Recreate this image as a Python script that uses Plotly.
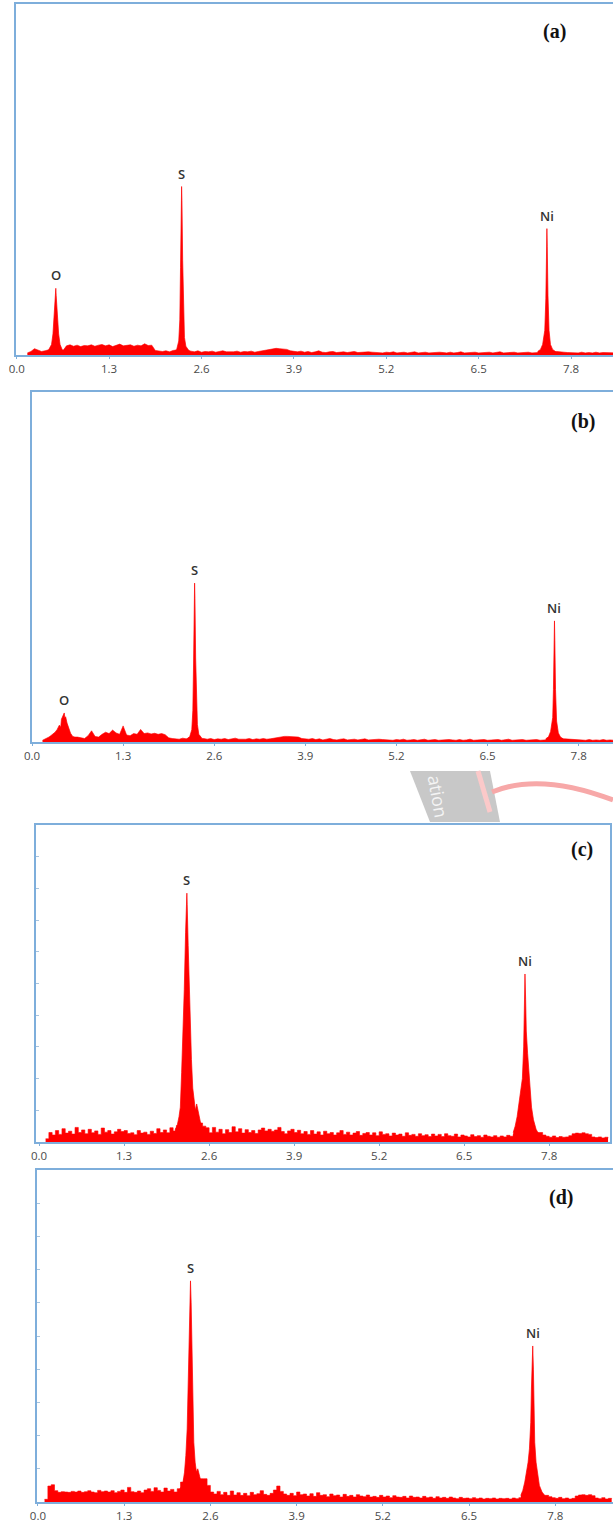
import numpy as np
import plotly.graph_objects as go

W, H = 613, 1526

tick_vals = [0.0, 1.3, 2.6, 3.9, 5.2, 6.5, 7.8]
tick_text = ["0.0", "1.3", "2.6", "3.9", "5.2", "6.5", "7.8"]
panel_names = ["(a)", "(b)", "(c)", "(d)"]

# ---------------- panel (a) : intensity in % of panel height ----------------
a_bg_start, a_bg_step = 0.15, 0.05
a_bg = [0.6, 1.0, 1.8, 1.4, 1.0, 1.2, 1.5,
        1.5, 1.5, 1.5,
        1.2, 2.6, 2.9, 2.5, 2.8, 2.4, 2.7, 2.6,
        2.9, 2.5, 2.8, 3.0, 2.6, 2.9, 2.4, 2.8, 3.1, 2.6, 2.7, 2.9, 2.5, 2.8, 2.6, 3.2, 2.7, 2.8, 1.3, 1.1,
        1.0, 1.2, 0.9, 1.3, 1.5, 1.5, 1.5, 1.5, 1.1, 0.9, 1.2, 0.8, 1.0, 0.9, 1.1, 0.8, 1.0, 1.2, 0.9, 0.8,
        0.9, 1.1, 0.8, 1.0, 0.9, 1.1, 0.8, 1.0, 1.2, 1.4, 1.7, 1.8, 1.9, 1.8, 1.7, 1.6, 1.2, 1.0, 0.9, 1.1,
        0.8, 1.0, 0.7, 0.9, 1.2, 0.8, 0.7, 0.9, 1.0, 0.7, 0.8, 0.9, 0.7, 0.8, 1.0, 0.7, 0.8, 0.7, 0.9, 0.8,
        0.7, 0.8, 0.6, 0.8, 0.7, 0.9, 0.6, 0.7, 0.8, 0.6, 0.7, 0.9, 0.6, 0.7, 0.8, 0.6, 0.7, 0.6, 0.8, 0.7,
        0.6, 0.8, 0.6, 0.7, 0.9, 0.6, 0.7, 0.6, 0.8, 0.6, 0.7, 0.6, 0.8, 0.6, 0.7, 0.9, 0.6, 0.7, 0.6, 0.8,
        0.6, 0.7, 0.6, 0.8, 0.6, 0.7, 0.8, 0.9, 1.0, 1.0, 1.0, 1.0, 1.0, 0.8, 0.7, 0.6, 0.7, 0.6, 0.8, 0.6,
        0.7, 0.6, 0.8, 0.6, 0.7, 0.6, 0.7, 0.6]
a_O_x = [0.45, 0.49, 0.51, 0.53, 0.545, 0.55, 0.555, 0.57, 0.59, 0.61, 0.64, 0.68]
a_O_y = [1.5, 3.0, 6.0, 12.0, 17.0, 19.0, 17.0, 11.0, 6.0, 3.0, 1.5, 1.2]
a_S_x = [2.22, 2.25, 2.28, 2.295, 2.305, 2.315, 2.32, 2.325, 2.335, 2.345, 2.36, 2.38, 2.42]
a_S_y = [1.2, 1.5, 4.0, 10.0, 25.0, 42.0, 48.0, 44.0, 27.0, 12.0, 5.0, 2.5, 1.3]
a_Ni_x = [7.33, 7.37, 7.40, 7.43, 7.445, 7.455, 7.46, 7.465, 7.475, 7.49, 7.51, 7.54, 7.58]
a_Ni_y = [1.0, 1.6, 3.0, 7.0, 16.0, 28.0, 36.0, 31.0, 17.0, 7.0, 3.0, 1.6, 1.0]

# ---------------- panel (b) ----------------
b_bg_start, b_bg_step = 0.15, 0.05
b_bg = [0.5, 0.9, 1.5,
        1.5, 1.5, 1.5, 1.5, 1.5, 1.5, 1.5,
        1.4, 1.2, 1.0, 1.8, 3.2, 1.6, 1.4, 2.2,
        2.8, 2.4, 3.4, 2.6, 2.2, 4.6, 2.0, 1.8, 2.4, 2.2, 3.6, 2.4, 2.6, 2.3, 2.5, 2.2, 2.4, 2.1, 1.2, 1.0,
        1.0, 0.8, 1.1, 0.9, 1.2, 1.2, 1.2, 1.2, 1.0, 0.8, 1.0, 0.7, 0.9, 0.8, 1.0, 0.7, 0.9, 1.1, 0.8, 0.7,
        0.8, 1.0, 0.7, 0.9, 0.8, 1.0, 0.8, 0.9, 1.1, 1.3, 1.5, 1.6, 1.6, 1.5, 1.5, 1.4, 1.0, 0.9, 0.8, 1.0,
        0.7, 0.9, 0.6, 0.8, 1.0, 0.7, 0.6, 0.8, 0.9, 0.6, 0.7, 0.8, 0.6, 0.7, 0.9, 0.6, 0.7, 0.6, 0.8, 0.7,
        0.6, 0.7, 0.5, 0.7, 0.6, 0.8, 0.5, 0.6, 0.7, 0.5, 0.6, 0.8, 0.5, 0.6, 0.7, 0.5, 0.6, 0.5, 0.7, 0.6,
        0.5, 0.7, 0.5, 0.6, 0.8, 0.5, 0.6, 0.5, 0.7, 0.5, 0.6, 0.5, 0.7, 0.5, 0.6, 0.8, 0.5, 0.6, 0.5, 0.7,
        0.5, 0.6, 0.5, 0.7, 0.5, 0.6, 0.7, 0.8, 0.9, 0.9, 0.9, 0.9, 0.8, 0.7, 0.6, 0.5, 0.6, 0.5, 0.7, 0.5,
        0.6, 0.5, 0.7, 0.5, 0.6, 0.5]
b_O_x = [0.25, 0.30, 0.33, 0.36, 0.39, 0.41, 0.42, 0.44, 0.46, 0.47, 0.48, 0.50, 0.52, 0.55, 0.58, 0.62]
b_O_y = [1.5, 2.2, 2.8, 3.6, 4.8, 4.2, 6.5, 7.4, 8.3, 6.8, 7.2, 5.4, 4.0, 2.5, 1.6, 1.2]
b_S_x = [2.22, 2.25, 2.28, 2.295, 2.305, 2.315, 2.32, 2.325, 2.335, 2.345, 2.36, 2.38, 2.42]
b_S_y = [1.1, 1.5, 3.5, 9.0, 22.0, 40.0, 45.4, 41.0, 24.0, 11.0, 5.0, 2.2, 1.2]
b_Ni_x = [7.33, 7.37, 7.40, 7.43, 7.44, 7.45, 7.455, 7.46, 7.47, 7.485, 7.51, 7.54, 7.58]
b_Ni_y = [0.9, 1.5, 3.0, 7.0, 15.0, 27.0, 34.6, 29.0, 15.0, 6.0, 2.6, 1.4, 0.9]

# ---------------- panel (c) ----------------
c_bg_start, c_bg_step = 0.10, 0.05
c_bg = [1.0, 3.0, 2.2, 3.6, 2.4, 4.2, 2.8, 3.4, 2.5, 4.6, 3.0, 3.8, 2.6, 4.0, 2.9, 3.5, 2.4, 4.4, 3.1,
        3.6, 2.5, 3.2, 4.0, 3.3, 3.6, 2.7, 2.9, 2.3, 3.6, 2.8, 3.1, 2.4, 3.4, 2.7, 4.2, 3.0, 3.8, 2.9, 4.5,
        3.5, 5.2, 4.0, 6.0, 6.0, 6.0, 6.0, 6.0, 6.0, 5.0, 4.5, 2.9, 4.6, 3.1, 4.0, 2.6, 3.9, 3.0, 4.8, 3.2,
        4.2, 2.8, 3.9, 3.0, 3.6, 2.7, 3.8, 4.4, 3.5, 4.0, 3.4, 3.8, 4.6, 3.3, 2.6, 3.5, 4.0, 3.0, 3.7, 2.6,
        3.3, 2.4, 3.6, 2.5, 3.2, 2.2, 3.4, 2.6, 3.0, 2.2, 2.9, 3.6, 2.4, 3.1, 2.2, 2.8, 3.3, 2.1, 2.7, 3.0,
        2.2, 2.9, 2.0, 3.2, 2.4, 2.6, 1.9, 2.8, 2.2, 2.5, 1.8, 2.9, 2.1, 2.4, 1.8, 2.6, 2.0, 2.3, 1.7, 2.5,
        1.9, 2.4, 1.7, 2.6, 2.0, 1.8, 2.5, 1.6, 2.2, 1.9, 1.6, 2.3, 1.7, 2.0, 1.5, 2.2, 1.8, 1.6, 2.0, 1.5,
        1.9, 1.6, 2.1, 1.8, 2.4, 3.0, 3.0, 3.0, 3.0, 3.0, 3.0, 3.0, 3.0, 2.2, 1.8, 1.5, 1.9, 1.4, 1.7, 1.5,
        1.6, 2.0, 2.6, 2.8, 2.7, 2.9, 2.6, 2.4, 1.6, 1.4, 1.6, 1.3, 1.5, 1.2]
c_S_x = [2.08, 2.11, 2.14, 2.16, 2.18, 2.20, 2.22, 2.24, 2.255, 2.26, 2.265, 2.28, 2.30, 2.32,
         2.33, 2.35, 2.37, 2.39, 2.41, 2.43, 2.45, 2.48, 2.52]
c_S_y = [4.0, 5.0, 8.0, 11.0, 22.0, 33.0, 48.0, 66.0, 76.0, 78.5, 75.0, 62.0, 45.0, 32.0,
         26.0, 17.0, 13.0, 10.0, 12.0, 10.0, 8.0, 5.0, 3.5]
c_Ni_x = [7.25, 7.28, 7.31, 7.34, 7.37, 7.39, 7.41, 7.42, 7.43, 7.44, 7.45, 7.47, 7.49, 7.51,
          7.53, 7.56, 7.60, 7.64]
c_Ni_y = [3.0, 5.0, 8.0, 12.0, 16.0, 20.0, 30.0, 42.0, 53.0, 45.0, 35.0, 28.0, 22.0, 16.0,
          11.0, 7.0, 4.0, 2.5]

# ---------------- panel (d) ----------------
d_bg_start, d_bg_step = 0.10, 0.05
d_bg = [0.8, 4.8, 5.2, 3.4, 2.9, 3.1, 3.0, 2.9, 3.2, 3.0, 3.3, 2.9, 3.1, 3.4, 3.0, 2.8, 3.5, 3.1, 3.3,
        3.0, 3.4, 2.8, 3.2, 3.6, 2.9, 4.4, 3.1, 2.9, 3.3, 2.8, 3.6, 4.0, 3.2, 4.3, 3.5, 3.0, 4.2, 3.3, 3.8,
        3.0, 4.0, 6.0, 7.0, 7.0, 7.0, 7.0, 7.0, 7.0, 7.0, 5.0, 3.0, 2.4, 3.2, 2.2, 2.9, 2.0, 3.3, 2.1, 2.8,
        2.0, 2.6, 1.9, 2.9, 2.2, 2.5, 3.4, 2.3, 2.0, 2.6, 3.6, 4.8, 3.2, 2.4, 2.0, 2.6, 1.9, 3.0, 2.2, 2.4,
        1.8, 2.5, 1.7, 2.8, 2.0, 2.2, 1.6, 2.4, 1.9, 2.1, 1.5, 2.3, 1.7, 2.0, 1.5, 2.2, 1.8, 1.6, 2.1, 1.5,
        1.7, 1.4, 2.0, 1.5, 1.8, 1.3, 1.9, 1.5, 1.4, 1.7, 1.2, 1.8, 1.4, 1.5, 1.2, 1.7, 1.3, 1.5, 1.1, 1.6,
        1.2, 1.4, 1.1, 1.5, 1.2, 1.0, 1.4, 1.1, 1.2, 1.0, 1.3, 1.0, 1.2, 0.9, 1.1, 1.0, 1.2, 0.9, 1.1, 1.0,
        1.1, 0.9, 1.2, 1.0, 1.3, 2.0, 2.0, 2.0, 2.0, 2.0, 2.0, 2.0, 2.0, 1.6, 1.3, 1.1, 1.4, 1.0, 1.2, 0.9,
        1.1, 1.8, 2.1, 2.2, 2.0, 2.2, 1.9, 1.2, 1.0, 1.3, 0.9, 1.1, 1.0]
d_S_x = [2.14, 2.18, 2.21, 2.23, 2.25, 2.26, 2.27, 2.28, 2.29, 2.30, 2.31, 2.32, 2.33, 2.34,
         2.35, 2.37, 2.39, 2.41, 2.43, 2.46, 2.50, 2.54]
d_S_y = [4.0, 5.0, 9.0, 14.0, 22.0, 30.0, 40.0, 52.0, 62.0, 66.6, 60.0, 48.0, 35.0, 25.0,
         18.0, 12.0, 9.0, 10.0, 8.5, 6.0, 4.0, 3.0]
d_Ni_x = [7.28, 7.31, 7.34, 7.37, 7.39, 7.41, 7.43, 7.44, 7.45, 7.46, 7.47, 7.48, 7.49, 7.51,
          7.53, 7.56, 7.60, 7.64]
d_Ni_y = [2.0, 3.5, 6.0, 9.0, 12.0, 16.0, 24.0, 34.0, 42.0, 47.0, 40.0, 28.0, 18.0, 12.0,
          9.0, 5.0, 3.0, 2.0]

# ---------------- layout geometry (pixels) ----------------
boxes = [
    dict(l=16, r=613, t=4, b=355, xr=[-0.01, 8.39], right=False, shape="linear"),
    dict(l=32, r=613, t=392, b=742, xr=[0.0, 8.29], right=False, shape="linear"),
    dict(l=36, r=610, t=825, b=1142, xr=[-0.047, 8.73], right=True, shape="hv"),
    dict(l=37, r=613, t=1170, b=1502, xr=[-0.014, 8.67], right=False, shape="hv"),
]
label_pos = [(554, 31), (583, 421), (582, 849), (561, 1197)]
ytick_panels = [False, False, True, True]

panels = [
    (a_bg_start, a_bg_step, a_bg, [("O", a_O_x, a_O_y), ("S", a_S_x, a_S_y), ("Ni", a_Ni_x, a_Ni_y)]),
    (b_bg_start, b_bg_step, b_bg, [("O", b_O_x, b_O_y), ("S", b_S_x, b_S_y), ("Ni", b_Ni_x, b_Ni_y)]),
    (c_bg_start, c_bg_step, c_bg, [("S", c_S_x, c_S_y), ("Ni", c_Ni_x, c_Ni_y)]),
    (d_bg_start, d_bg_step, d_bg, [("S", d_S_x, d_S_y), ("Ni", d_Ni_x, d_Ni_y)]),
]

RED = "#ff0000"
BORDER = "#7eaedb"
TICKFONT = dict(family="Open Sans", size=11.5, color="#4a4a4a")

fig = go.Figure()
annotations = []
layout_axes = {}

for i, (start, step, bg, peaks) in enumerate(panels):
    n = i + 1
    xa = "x" if n == 1 else f"x{n}"
    ya = "y" if n == 1 else f"y{n}"
    bx = boxes[i]
    energy = np.round(start + step * np.arange(len(bg)), 3)
    fig.add_trace(go.Scatter(x=energy, y=bg, mode="lines", fill="tozeroy",
                             line=dict(color=RED, width=0.6, shape=bx["shape"]), fillcolor=RED,
                             xaxis=xa, yaxis=ya, showlegend=False, hoverinfo="skip"))
    for name, px_, py_ in peaks:
        fig.add_trace(go.Scatter(x=px_, y=py_, mode="lines", fill="tozeroy",
                                 line=dict(color=RED, width=0.7), fillcolor=RED,
                                 xaxis=xa, yaxis=ya, showlegend=False, hoverinfo="skip"))
        k = int(np.argmax(py_))
        annotations.append(dict(x=px_[k], y=py_[k], xref=xa, yref=ya, text=name,
                                showarrow=False, yanchor="bottom", yshift=2,
                                font=dict(family="Open Sans", size=13, color="#333333",
                                          weight=600)))
    xkey = "xaxis" if n == 1 else f"xaxis{n}"
    ykey = "yaxis" if n == 1 else f"yaxis{n}"
    layout_axes[xkey] = dict(
        domain=[bx["l"] / W, bx["r"] / W], range=bx["xr"], anchor=ya,
        showline=True, linecolor=BORDER, linewidth=2, mirror=True,
        showgrid=False, zeroline=False, automargin=False,
        tickmode="array", tickvals=tick_vals, ticktext=tick_text,
        ticks="outside", ticklen=2, tickcolor=BORDER, tickfont=TICKFONT,
    )
    yax = dict(
        domain=[1 - bx["b"] / H, 1 - bx["t"] / H], range=[0, 100], anchor=xa,
        showline=True, linecolor=BORDER, linewidth=2, mirror=bx["right"],
        showgrid=False, zeroline=False, showticklabels=False, automargin=False,
    )
    if ytick_panels[i]:
        yax.update(tickmode="array", tickvals=[10, 20, 30, 40, 50, 60, 70, 80, 90],
                   ticks="inside", ticklen=3, tickcolor="#a9c4de", tickwidth=1)
    else:
        yax.update(ticks="")
    layout_axes[ykey] = yax
    lx, ly = label_pos[i]
    annotations.append(dict(x=lx / W, y=1 - ly / H, xref="paper", yref="paper",
                            text=f"<b>{panel_names[i]}</b>", showarrow=False,
                            xanchor="center", yanchor="middle",
                            font=dict(family="Liberation Serif", size=20, color="#111111")))

# watermark fragment between panels (b) and (c)
def P(px, py):
    return f"{px / W:.5f},{1 - py / H:.5f}"

shapes = [
    dict(type="path", xref="paper", yref="paper",
         path=f"M {P(410, 771)} L {P(490, 771)} L {P(500, 822)} L {P(430, 822)} Z",
         fillcolor="#c8c8c8", line=dict(width=0), layer="below"),
    dict(type="path", xref="paper", yref="paper",
         path=f"M {P(492, 792)} Q {P(540, 772)} {P(613, 800)}",
         line=dict(color="#f7a8a8", width=5)),
    dict(type="path", xref="paper", yref="paper",
         path=f"M {P(478, 771)} L {P(490, 812)}",
         line=dict(color="#fbc9c9", width=5)),
]
annotations.append(dict(x=456 / W, y=1 - 796 / H, xref="paper", yref="paper",
                        text="ation", showarrow=False, textangle=80,
                        font=dict(family="Open Sans", size=18, color="#f4f4f4")))

fig.update_layout(
    width=W, height=H, margin=dict(l=0, r=0, t=0, b=0, autoexpand=False),
    paper_bgcolor="white", plot_bgcolor="white",
    annotations=annotations, shapes=shapes, showlegend=False,
    **layout_axes,
)

fig.write_html("out.html")
